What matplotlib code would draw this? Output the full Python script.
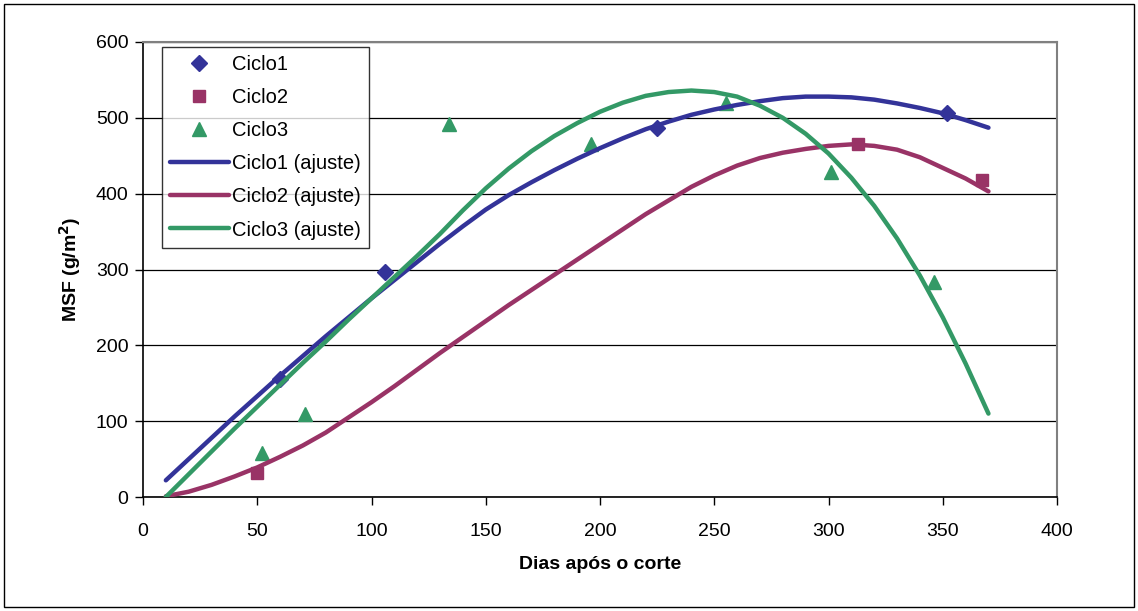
import matplotlib
matplotlib.use("Agg")
import matplotlib.pyplot as plt
from matplotlib.patches import Rectangle

plt.rcParams['font.family'] = ['Liberation Sans', 'DejaVu Sans']
plt.rcParams['mathtext.default'] = 'regular'

# Observed data
c1_x = [60, 106, 225, 352]
c1_y = [156, 297, 486, 506]
c2_x = [50, 313, 367]
c2_y = [31, 465, 418]
c3_x = [52, 71, 134, 196, 255, 301, 346]
c3_y = [58, 110, 492, 466, 519, 429, 283]

# Fitted curves (values every 10 days)
fit_x = [10, 20, 30, 40, 50, 60, 70, 80, 90, 100, 110, 120, 130, 140, 150, 160, 170, 180, 190,
         200, 210, 220, 230, 240, 250, 260, 270, 280, 290, 300, 310, 320, 330, 340, 350, 360, 370]
fit1_y = [22, 50, 78, 106, 133, 160, 186, 212, 237, 262, 286, 310, 334, 357, 379, 398, 415, 431, 446,
          460, 473, 485, 495, 504, 511, 517, 522, 526, 528, 528, 527, 524, 519, 513, 506, 497, 487]
fit2_y = [1, 7, 16, 27, 39, 53, 68, 85, 105, 125, 146, 168, 190, 211, 232, 253, 273, 293, 313,
          333, 353, 373, 391, 409, 424, 437, 447, 454, 459, 463, 465, 463, 458, 448, 434, 420, 403]
fit3_y = [0, 30, 60, 90, 119, 148, 177, 205, 234, 262, 290, 318, 347, 378, 407, 433, 456, 476, 493,
          508, 520, 529, 534, 536, 534, 528, 516, 500, 479, 453, 421, 384, 341, 292, 237, 176, 110]

labels = ['Ciclo1', 'Ciclo2', 'Ciclo3', 'Ciclo1 (ajuste)', 'Ciclo2 (ajuste)', 'Ciclo3 (ajuste)']
blue, mag, green = '#333399', '#993366', '#339966'

fig = plt.figure(figsize=(11.38, 6.11), dpi=100)
ax = fig.add_axes([143/1138, 1 - 497/611, 914/1138, 455/611])

ax.plot(c1_x, c1_y, linestyle='none', marker='D', markersize=8, color=blue, label=labels[0], zorder=3)
ax.plot(c2_x, c2_y, linestyle='none', marker='s', markersize=9, color=mag, label=labels[1], zorder=3)
ax.plot(c3_x, c3_y, linestyle='none', marker='^', markersize=10, color=green, label=labels[2], zorder=3)
ax.plot(fit_x, fit1_y, color=blue, lw=3.2, label=labels[3], zorder=4, solid_capstyle='round')
ax.plot(fit_x, fit2_y, color=mag, lw=3.2, label=labels[4], zorder=4, solid_capstyle='round')
ax.plot(fit_x, fit3_y, color=green, lw=3.2, label=labels[5], zorder=4, solid_capstyle='round')

ax.set_xlim(0, 400)
ax.set_ylim(0, 600)
ax.set_xticks(range(0, 401, 50))
ax.set_yticks(range(0, 601, 100))
ax.tick_params(axis='both', labelsize=14, direction='out', length=5.5, width=1, color='black')
ax.tick_params(axis='x', pad=13)
ax.tick_params(axis='y', pad=5)
ax.yaxis.grid(True, color='black', lw=0.9)
ax.set_axisbelow(True)
for s in ['top', 'right']:
    ax.spines[s].set_color('#808080')
    ax.spines[s].set_linewidth(1.5)
for s in ['left', 'bottom']:
    ax.spines[s].set_color('black')
    ax.spines[s].set_linewidth(1.2)

ax.set_xlabel('Dias após o corte', fontsize=14, fontweight='bold', labelpad=12)
ax.set_ylabel(r'MSF (g/m$^{\mathbf{2}}$)', fontsize=14, fontweight='bold', labelpad=9)

leg = ax.legend(loc='upper left', bbox_to_anchor=(0.021, 0.989), borderaxespad=0,
                fontsize=14.5, frameon=True, fancybox=False, handlelength=2.9,
                labelspacing=0.7, handletextpad=0.15, borderpad=0.4)
leg.get_frame().set_edgecolor('black')
leg.get_frame().set_linewidth(1)

fig.patches.append(Rectangle((4/1138, 4/611), 1130/1138, 603/611, transform=fig.transFigure,
                             fill=False, edgecolor='black', lw=1))

fig.savefig('out.png', dpi=100)
